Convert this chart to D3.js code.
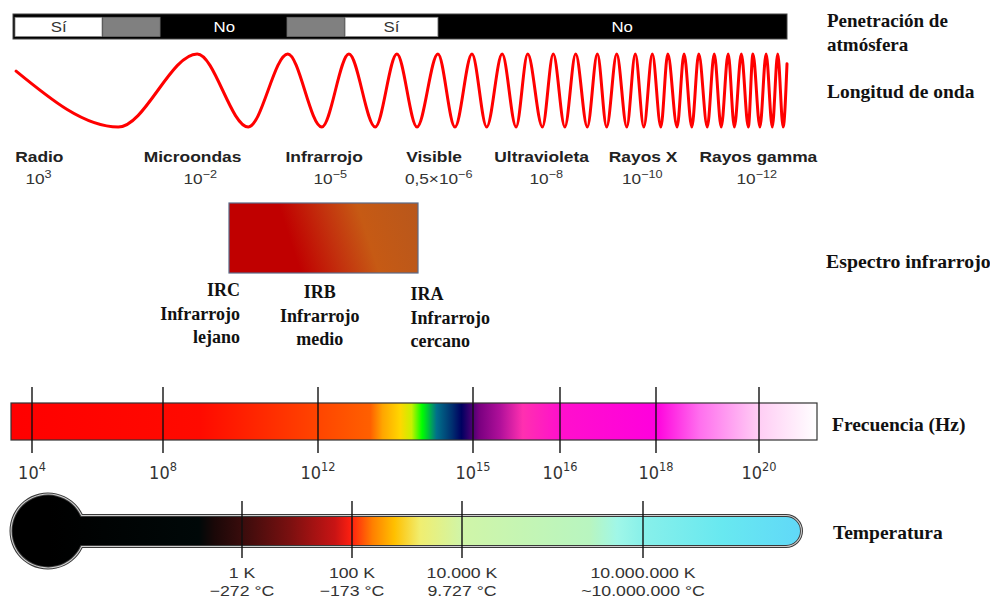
<!DOCTYPE html>
<html><head><meta charset="utf-8">
<script src="https://cdn.jsdelivr.net/npm/d3@7"></script>
<style>body{margin:0;background:#fff}svg{display:block}</style>
</head><body><svg id="c" width="990" height="598"></svg>
<script>
// ================= DATA =================
// Atmospheric penetration (percent along spectrum bar)
const penetrationKind  = ["yes", "partial", "no", "partial", "yes", "no"];
const penetrationStart = [0.26, 11.6, 19.0, 35.4, 42.9, 54.9];
const penetrationEnd   = [11.5, 19.0, 35.4, 42.8, 54.9, 100];
const penetrationText  = ["Sí", "No", "Sí", "No"];
const penetrationTextPos = [5.9, 27.3, 48.9, 78.7];

// Wave extrema (percent along bar, normalized amplitude)
const waveX = [0.4, 13.6, 23.8, 30.4, 35.5, 39.9, 43.4, 46.8, 49.6, 52.2, 54.9, 57.1, 59.3, 61.2,
  63.2, 65.0, 66.5, 68.4, 69.8, 71.3, 72.7, 74.2, 75.5, 76.7, 78.0, 79.3, 80.4, 81.5, 82.6, 83.7,
  84.6, 85.8, 86.7, 87.7, 88.6, 89.7, 90.6, 91.5, 92.4, 93.2, 94.1, 95.0, 95.6, 96.5, 97.3, 98.1,
  98.8, 99.5, 100];
const waveY = [0.53, -1, 1, -1, 1, -1, 1, -1, 1, -1, 1, -1, 1, -1,
  1, -1, 1, -1, 1, -1, 1, -1, 1, -1, 1, -1, 1, -1, 1, -1,
  1, -1, 1, -1, 1, -1, 1, -1, 1, -1, 1, -1, 1, -1, 1, -1,
  1, -1, 0.73];

// Spectral bands
const bands = ["Radio", "Microondas", "Infrarrojo", "Visible", "Ultravioleta", "Rayos X", "Rayos gamma"];
const bandPos = [3.4, 23.2, 40.2, 54.4, 68.3, 81.4, 96.3];
const wavePrefix = ["", "", "", "0,5×", "", "", ""];
const waveExp = ["3", "−2", "−5", "−6", "−8", "−10", "−12"];
const waveLabelPos = [3.3, 24.2, 41.0, 55.0, 68.9, 81.3, 96.1];

// Infrared sub-bands
const irCodes = ["IRC", "IRB", "IRA"];
const irNames = ["lejano", "medio", "cercano"];
const irPos = [0.058, 0.48, 0.96];

// Frequency ticks (Hz exponents)
const freqExp = [4, 8, 12, 15, 16, 18, 20];

// Temperature ticks
const tempK = [1, 100, 1e4, 1e7];
const tempKLabels = ["1 K", "100 K", "10.000 K", "10.000.000 K"];
const tempCLabels = ["−272 °C", "−173 °C", "9.727 °C", "~10.000.000 °C"];

// Row titles
const rowTitles = [["Penetración de", "atmósfera"], ["Longitud de onda"], ["Espectro infrarrojo"], ["Frecuencia (Hz)"], ["Temperatura"]];

// ================= STYLES =================
const SANS = "'Liberation Sans', Arial, sans-serif";
const SERIF = "'Liberation Serif', 'Times New Roman', serif";
const freqStopOff = [0, 0.234, 0.381, 0.446, 0.461, 0.483, 0.497, 0.51, 0.528, 0.547, 0.559, 0.581, 0.607, 0.635, 0.681, 0.80, 0.855, 0.926, 1];
const freqStopCol = ["#ff0000", "#ff0a00", "#ff4500", "#ff6000", "#ffa500", "#ffd700", "#c8f000", "#00ff00", "#00708a", "#003070", "#000060", "#7a0080", "#b0109a", "#ff30b0", "#ff10cc", "#ff00dd", "#ff70ee", "#ffccf4", "#ffffff"];
const tempStopOff = [0, 0.2, 0.22, 0.258, 0.32, 0.38, 0.402, 0.43, 0.459, 0.493, 0.548, 0.718, 0.754, 0.788, 0.893, 1];
const tempStopCol = ["#000000", "#000808", "#1a0808", "#3a0c0c", "#7a1010", "#c81414", "#ff2010", "#ff8000", "#ffc000", "#f0ee70", "#d0f5a8", "#b8f5c0", "#a0f7e8", "#88f0ea", "#68e8f0", "#60d8f8"];
const irStopOff = [0, 0.27, 0.5, 0.68, 1];
const irStopCol = ["#c00000", "#c00000", "#c3330e", "#c65a14", "#b8571c"];

// ================= DRAW =================
const svg = d3.select("#c");
const defs = svg.append("defs");
function gradient(id, offs, cols, attrs) {
  const g = defs.append("linearGradient").attr("id", id);
  Object.entries(attrs).forEach(([k, v]) => g.attr(k, v));
  offs.forEach((o, i) => g.append("stop").attr("offset", o).attr("stop-color", cols[i]));
}

// helper for horizontally stretched sans text
function stext(x, y, parts, o) {
  const g = svg.append("g").attr("transform", `translate(${x},${y}) scale(${o.sx || 1},1)`);
  const t = g.append("text").attr("text-anchor", o.anchor || "middle")
    .attr("font-family", o.family || SANS).attr("font-size", o.size)
    .attr("font-weight", o.weight || "normal").attr("fill", o.fill || "#000");
  parts.forEach(p => {
    const ts = t.append("tspan").text(p.t);
    if (p.sup) ts.attr("font-size", o.supSize).attr("dy", -o.supRise);
  });
  return t;
}

const sx = d3.scaleLinear().domain([0, 100]).range([13, 787]);

// ---- Penetration bar ----
svg.append("rect").attr("x", sx(0)).attr("y", 14).attr("width", sx(100) - sx(0)).attr("height", 25)
  .attr("fill", "#000").attr("stroke", "#444").attr("stroke-width", 1);
penetrationKind.forEach((k, i) => {
  if (k === "no") return;
  svg.append("rect").attr("x", sx(penetrationStart[i])).attr("y", 17.3)
    .attr("width", sx(penetrationEnd[i]) - sx(penetrationStart[i])).attr("height", 19.2)
    .attr("fill", k === "yes" ? "#fff" : "#808080")
    .attr("stroke", k === "yes" ? "#888" : "#6a6a6a").attr("stroke-width", 0.8);
});
penetrationText.forEach((t, i) => {
  stext(sx(penetrationTextPos[i]), 32, [{t}], {size: 14, sx: 1.2, fill: t === "Sí" ? "#333" : "#fff"});
});

// ---- Wave ----
const wy = d3.scaleLinear().domain([-1, 1]).range([127, 54]);
const wavePts = waveX.map((x, i) => [x, waveY[i]]);
svg.append("path").datum(wavePts)
  .attr("d", d3.line().x(d => sx(d[0])).y(d => wy(d[1])).curve(d3.curveMonotoneX))
  .attr("fill", "none").attr("stroke", "#ff0000").attr("stroke-width", 3).attr("stroke-linecap", "round");

// ---- Band labels ----
bands.forEach((b, i) => {
  stext(sx(bandPos[i]), 162, [{t: b}], {size: 14.5, weight: "bold", sx: 1.2, fill: "#222"});
  const parts = [{t: wavePrefix[i] + "10"}, {t: waveExp[i], sup: true}];
  stext(sx(waveLabelPos[i]), 184, parts, {size: 15, sx: 1.15, fill: "#333", supSize: 11, supRise: 6});
});

// ---- Infrared box ----
const irX0 = 229, irX1 = 418;
gradient("irg", irStopOff, irStopCol, {x1: 0, y1: 0.12, x2: 1, y2: 0});
svg.append("rect").attr("x", irX0).attr("y", 203).attr("width", irX1 - irX0).attr("height", 70)
  .attr("fill", "url(#irg)").attr("stroke", "#5a6a88").attr("stroke-width", 1.2);
const irScale = d3.scaleLinear().domain([0, 1]).range([irX0, irX1]);
const irAnchor = ["end", "middle", "start"];
const irBase = [296, 298, 300];
irCodes.forEach((c, i) => {
  [c, "Infrarrojo", irNames[i]].forEach((line, j) => {
    svg.append("text").attr("x", irScale(irPos[i])).attr("y", irBase[i] + j * 23.5)
      .attr("text-anchor", irAnchor[i]).attr("font-family", SERIF).attr("font-weight", "bold")
      .attr("font-size", 18).attr("fill", "#111").text(line);
  });
});

// ---- Frequency bar ----
const fx = d3.scaleLog().domain(freqExp.map(e => Math.pow(10, e))).range([32, 163, 318, 473, 560, 656, 759]);
gradient("fg", freqStopOff, freqStopCol, {gradientUnits: "userSpaceOnUse", x1: 11, x2: 817, y1: 0, y2: 0});
svg.append("rect").attr("x", 11).attr("y", 403).attr("width", 806).attr("height", 37)
  .attr("fill", "url(#fg)").attr("stroke", "#333").attr("stroke-width", 1.2);
freqExp.forEach(e => {
  const x = fx(Math.pow(10, e));
  svg.append("line").attr("x1", x).attr("x2", x).attr("y1", 387).attr("y2", 453)
    .attr("stroke", "#111").attr("stroke-width", 1.4);
  stext(x, 479, [{t: "10"}, {t: String(e), sup: true}], {size: 17, family: "'DejaVu Sans', sans-serif", fill: "#333", supSize: 12, supRise: 8, sx: 0.95});
});

// ---- Thermometer ----
const bulb = {cx: 48, cy: 531, r: 38.5};
const tube = {y0: 514, y1: 548, x1: 803};
function thermoPath(d) {
  const R = bulb.r - d, yT = tube.y0 + d, yB = tube.y1 - d, xR = tube.x1 - d, r = (yB - yT) / 2;
  const x0 = bulb.cx + Math.sqrt(R * R - (bulb.cy - yT) * (bulb.cy - yT));
  return `M${x0},${yT}L${xR - r},${yT}A${r},${r} 0 0 1 ${xR - r},${yB}L${x0},${yB}A${R},${R} 0 1 1 ${x0},${yT}Z`;
}
gradient("tg", tempStopOff, tempStopCol, {gradientUnits: "userSpaceOnUse", x1: 48, x2: 803, y1: 0, y2: 0});
svg.append("path").attr("d", thermoPath(0)).attr("fill", "#3a3a3a");
svg.append("path").attr("d", thermoPath(1)).attr("fill", "#cfcfcf");
svg.append("path").attr("d", thermoPath(2.1)).attr("fill", "#3a3a3a");
svg.append("path").attr("d", thermoPath(3)).attr("fill", "url(#tg)");
const tx = d3.scaleLog().domain(tempK).range([242, 352, 462, 643]);
tempK.forEach((k, i) => {
  const x = tx(k);
  svg.append("line").attr("x1", x).attr("x2", x).attr("y1", 501).attr("y2", 558)
    .attr("stroke", "#111").attr("stroke-width", 1.4);
  stext(x, 578, [{t: tempKLabels[i]}], {size: 15, sx: 1.18, fill: "#333"});
  stext(x, 596, [{t: tempCLabels[i]}], {size: 15, sx: 1.18, fill: "#333"});
});

// ---- Row titles ----
const titleX = [827, 827, 826, 832, 833];
const titleY = [27, 98, 268, 431, 539];
const titleSize = [19, 19.5, 19.8, 19.5, 19.5];
rowTitles.forEach((lines, i) => {
  lines.forEach((l, j) => {
    svg.append("text").attr("x", titleX[i]).attr("y", titleY[i] + j * 24)
      .attr("font-family", SERIF).attr("font-weight", "bold").attr("font-size", titleSize[i])
      .attr("fill", "#111").text(l);
  });
});
</script></body></html>
